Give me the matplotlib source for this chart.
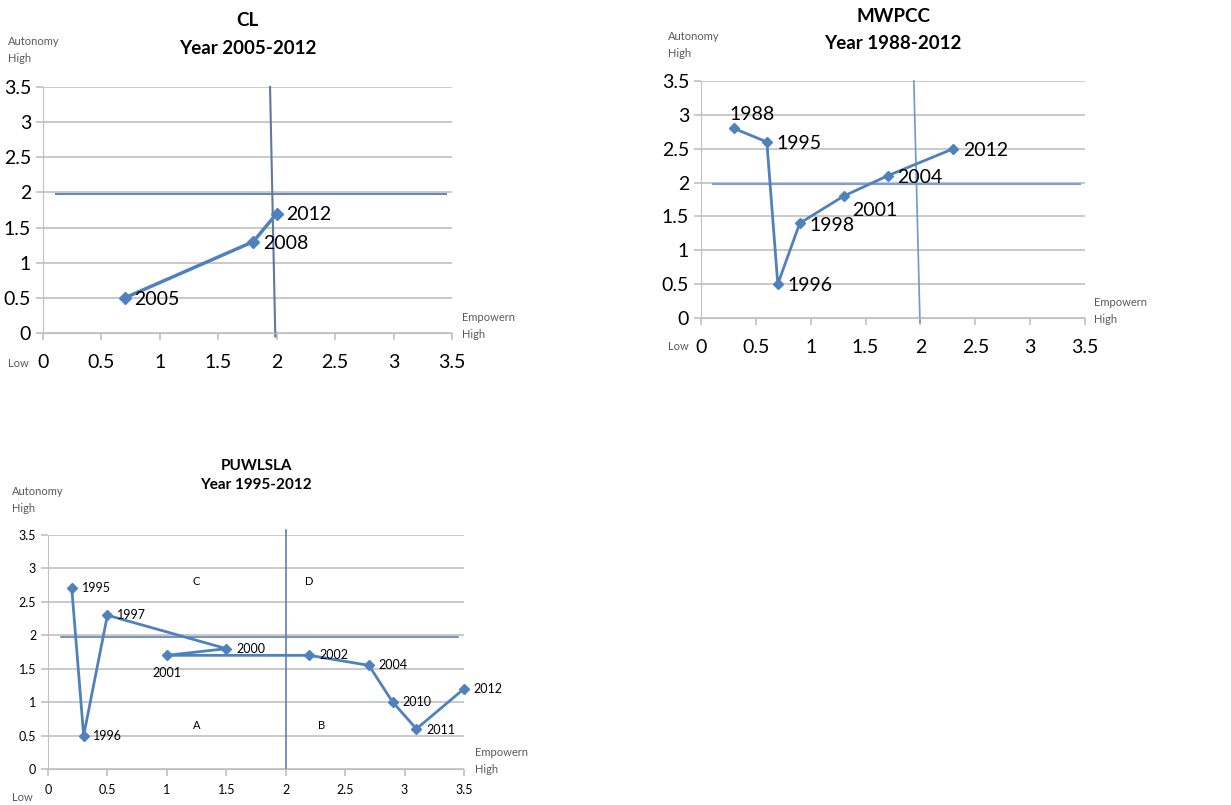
import matplotlib
matplotlib.use("Agg")
import matplotlib.pyplot as plt

plt.rcParams['font.family'] = ['Lato', 'DejaVu Sans']

# --- data -------------------------------------------------------------
cl_x = [0.7, 1.8, 2.0]
cl_y = [0.5, 1.3, 1.7]
cl_years = ['2005', '2008', '2012']

mw_x = [0.3, 0.6, 0.7, 0.9, 1.3, 1.7, 2.3]
mw_y = [2.8, 2.6, 0.5, 1.4, 1.8, 2.1, 2.5]
mw_years = ['1988', '1995', '1996', '1998', '2001', '2004', '2012']

pu_x = [0.2, 0.3, 0.5, 1.5, 1.0, 2.2, 2.7, 2.9, 3.1, 3.5]
pu_y = [2.7, 0.5, 2.3, 1.8, 1.7, 1.7, 1.55, 1.0, 0.6, 1.2]
pu_years = ['1995', '1996', '1997', '2000', '2001', '2002', '2004', '2010', '2011', '2012']

ticks = [0, 0.5, 1, 1.5, 2, 2.5, 3, 3.5]
tick_labels = ['0', '0.5', '1', '1.5', '2', '2.5', '3', '3.5']

quad_names = ['C', 'D', 'A', 'B']
quad_x = [1.25, 2.2, 1.25, 2.3]
quad_y = [2.8, 2.8, 0.65, 0.65]

W, H = 1231, 805
BLUE = '#4f81bd'
REF = '#5b80b8'
GRID = '#c0c0c0'
GREY = '#595959'

fig = plt.figure(figsize=(W / 100, H / 100), dpi=100)


def make_ax(l, r, t, b):
    return fig.add_axes([l / W, 1 - b / H, (r - l) / W, (b - t) / H])


def style(ax, fs):
    ax.set_xlim(0, 3.5)
    ax.set_ylim(0, 3.5)
    ax.set_xticks(ticks)
    ax.set_yticks(ticks)
    ax.set_xticklabels(tick_labels)
    ax.set_yticklabels(tick_labels)
    for s in ['top', 'right']:
        ax.spines[s].set_visible(False)
    for s in ['left', 'bottom']:
        ax.spines[s].set_color(GRID)
    ax.yaxis.grid(True, color=GRID, lw=1.2)
    ax.set_axisbelow(True)
    ax.tick_params(colors=GRID, labelcolor='black', labelsize=fs, length=5, width=1.2)
    ax.tick_params(axis='x', pad=10)


def side_text(ax, fs, auto_xy, emp_xy, low_xy):
    for txt, (px, py) in [('Autonomy\nHigh', auto_xy), ('Empowern\nHigh', emp_xy), ('Low', low_xy)]:
        fig.text(px / W, 1 - py / H, txt, fontsize=fs, color=GREY, ha='left', va='center',
                 linespacing=1.6)


# --- CL ---------------------------------------------------------------
ax1 = make_ax(43, 452, 87, 333)
style(ax1, 14)
ax1.plot([0.11, 3.45], [1.98, 1.98], color='#6a88b5', lw=1.5, clip_on=False)
ax1.plot([1.943, 1.988], [3.5, -0.05], color='#60789f', lw=1.5, clip_on=False)
ax1.plot(cl_x, cl_y, color=BLUE, lw=2.5, marker='D', ms=6)
for x, y, t in zip(cl_x, cl_y, cl_years):
    ax1.annotate(t, (x, y), xytext=(7, -1), textcoords='offset points',
                 fontsize=14, va='center', ha='left')
ax1.set_title('CL\nYear 2005-2012', fontsize=13.5, fontweight='bold', pad=24, linespacing=1.75)
side_text(ax1, 8, (8, 50), (462, 326), (8, 363))

# --- MWPCC ------------------------------------------------------------
ax2 = make_ax(701, 1085, 81, 318)
style(ax2, 14)
ax2.plot([0.11, 3.45], [1.98, 1.98], color='#7aa0d4', lw=1.5, clip_on=False)
ax2.plot([1.94, 1.996], [3.5, -0.07], color='#6f97cf', lw=1.2, clip_on=False)
ax2.plot(mw_x, mw_y, color=BLUE, lw=2, marker='D', ms=5)
mw_off = [(-3, 10), (7, -1), (7, -1), (7, -2), (6, -10), (7, -1), (7, -1)]
for x, y, t, (dx, dy) in zip(mw_x, mw_y, mw_years, mw_off):
    ax2.annotate(t, (x, y), xytext=(dx, dy), textcoords='offset points',
                 fontsize=14, va='center', ha='left')
ax2.set_title('MWPCC\nYear 1988-2012', fontsize=13.5, fontweight='bold', pad=23, linespacing=1.75)
side_text(ax2, 8, (668, 45), (1094, 311), (668, 346))

# --- PUWLSLA ----------------------------------------------------------
ax3 = make_ax(48, 464, 535, 769)
style(ax3, 9)
ax3.tick_params(axis='x', pad=6)
ax3.plot([0.11, 3.45], [1.98, 1.98], color=REF, lw=1.2, clip_on=False)
ax3.plot([2.0, 2.0], [3.58, 0], color=REF, lw=1.2, clip_on=False)
ax3.plot(pu_x, pu_y, color=BLUE, lw=2, marker='D', ms=5, clip_on=False)
pu_off = [(7, 0), (7, 0), (7, 0), (7, 0), (0, -13), (7, 0), (7, 0), (7, 0), (7, -1), (7, 0)]
for x, y, t, (dx, dy) in zip(pu_x, pu_y, pu_years, pu_off):
    ax3.annotate(t, (x, y), xytext=(dx, dy), textcoords='offset points',
                 fontsize=9, va='center', ha='center' if t == '2001' else 'left')
for n, x, y in zip(quad_names, quad_x, quad_y):
    ax3.text(x, y, n, fontsize=8, ha='center', va='center')
ax3.set_title('PUWLSLA\nYear 1995-2012', fontsize=11, fontweight='bold', pad=33, linespacing=1.45)
side_text(ax3, 8, (12, 500), (475, 761), (12, 797))

fig.savefig('out.png', dpi=100)
